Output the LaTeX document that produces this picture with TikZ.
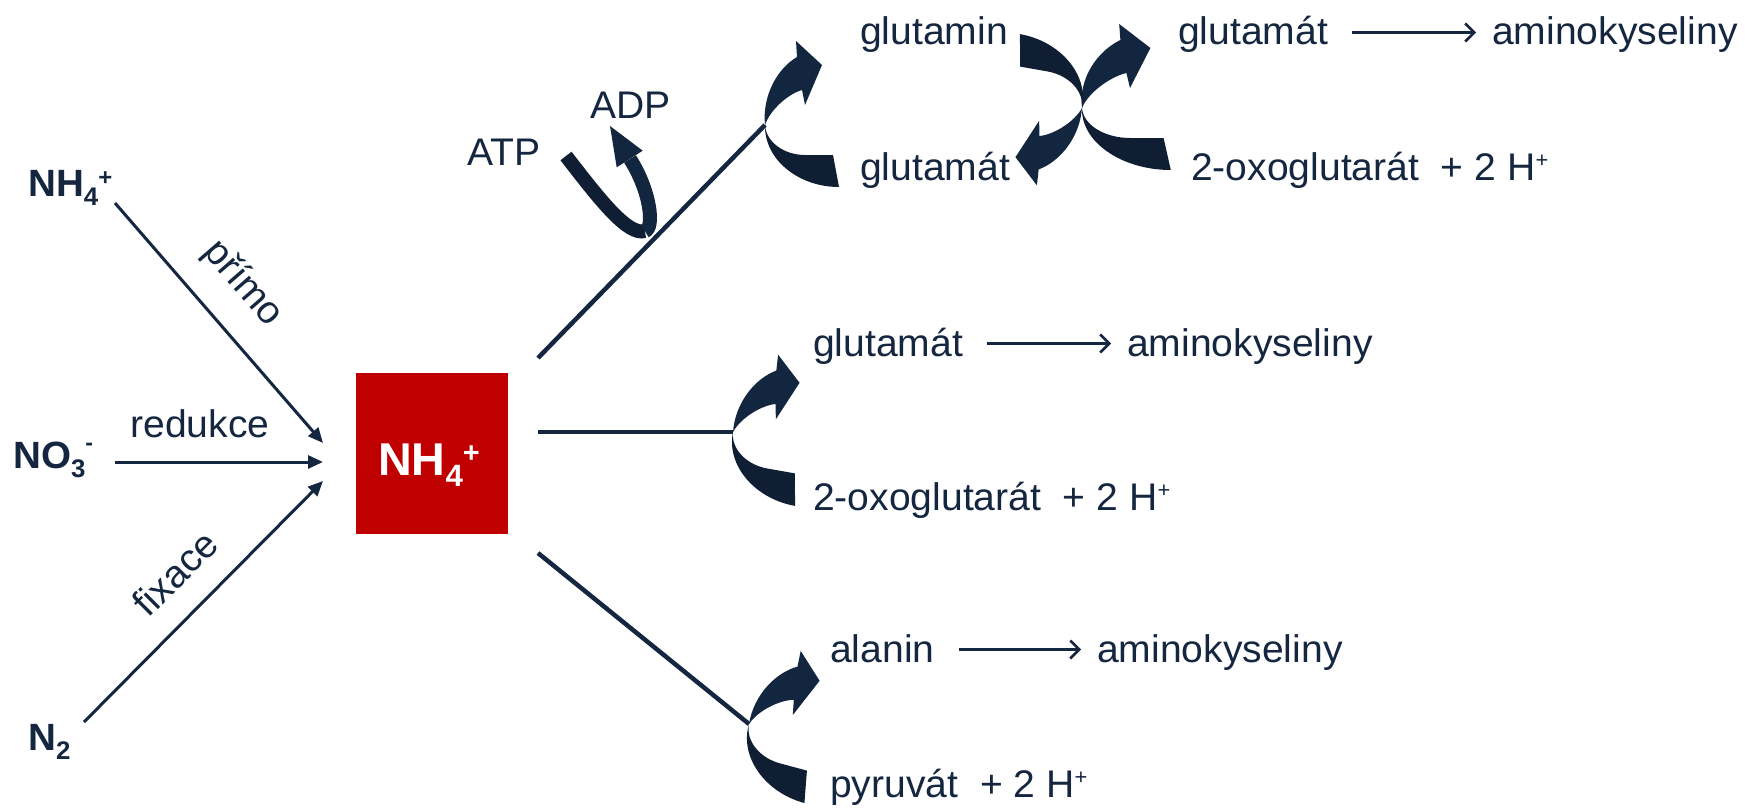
\documentclass[tikz,border=0pt]{standalone}
\usepackage{fontspec}
\setmainfont{Liberation Sans}[FakeStretch=1.015]
\usetikzlibrary{arrows.meta}

\definecolor{navy}{HTML}{152640}
\definecolor{arrdark}{HTML}{0F1E33}
\definecolor{arrlight}{HTML}{13263F}
\definecolor{boxred}{HTML}{C00000}

% chemical indices
\newcommand{\chsub}[1]{\raisebox{-0.26em}{\scalebox{0.67}{#1}}}
\newcommand{\chsup}[1]{\raisebox{0.28em}{\scalebox{0.62}{#1}}}
\newcommand{\chminus}{\raisebox{0.45em}{\scalebox{0.6}{-}}}
\newcommand{\hplus}{\raisebox{0.32em}{\scalebox{0.56}{+}}}

% curved block arrow: a tapering tail crescent and an arrow crescent meeting at the origin
\newcommand{\curvedblockarrow}{%
  \fill[arrdark] (0,0) .. controls (-1,34) and (33,62) .. (74,62) -- (68,30) -- (40,30)
    .. controls (19,30) and (1,17) .. (0,0) -- cycle;
  \fill[arrlight] (0,0) .. controls (-3,-30) and (13,-57) .. (32,-68) -- (31,-84) -- (57,-60)
    -- (40,-20) -- (37,-35) .. controls (23,-31) and (5,-15) .. (0,0) -- cycle;
}

\begin{document}
\begin{tikzpicture}[x=1pt,y=-1pt,
  txt/.style={inner sep=0pt, anchor=base west, text=navy, font=\fontsize{38.5}{42}\selectfont},
  boldtxt/.style={txt, font=\fontsize{38}{42}\selectfont\bfseries},
  feed/.style={draw=navy, line width=3pt, -{Triangle[length=15pt,width=13pt]}},
  branch/.style={draw=navy, line width=4.5pt},
  conv/.style={draw=navy, line width=2.5pt, -{Straight Barb[length=9pt,width=18pt]},
    shorten <=24pt, shorten >=16pt},
]
\useasboundingbox (0,0) rectangle (1746,808);

% ---- nitrogen sources ----
\node[boldtxt] (nh4) at (28,196) {NH\chsub{4}\chsup{+}};
\node[boldtxt] (no3) at (13,468) {NO\chsub{3}\chminus};
\node[boldtxt] (n2)  at (28,750) {N\chsub{2}};

\coordinate (a1s) at (115,203);
\coordinate (a1e) at (323,443);
\coordinate (a2s) at (115,462);
\coordinate (a2e) at (323,462);
\coordinate (a3s) at (84,722);
\coordinate (a3e) at (323,481);
\draw[feed] (a1s) -- (a1e);
\draw[feed] (a2s) -- (a2e);
\draw[feed] (a3s) -- (a3e);

\node[txt, anchor=center, rotate=-49] (primo) at (243,284) {přímo};
\node[txt, anchor=base] (redukce) at (200,437) {redukce};
\node[txt, anchor=center, rotate=45] (fixace) at (175,573) {fixace};

% ---- ammonium pool ----
\node[fill=boxred, minimum width=152pt, minimum height=161pt, inner sep=0pt] (pool) at (432,453.5) {};
\node[inner sep=0pt, anchor=base, text=white, font=\fontsize{46}{50}\selectfont\bfseries]
  (poollbl) at (429,475) {NH\chsub{4}\chsup{+}};

% ---- assimilation branches ----
\coordinate (b1s) at (538,358);
\coordinate (piv1) at (765,125);
\coordinate (b2s) at (538,432);
\coordinate (piv2) at (733,432);
\coordinate (b3s) at (538,553);
\coordinate (piv3) at (749,724);
\draw[branch] (b1s) -- (piv1);
\draw[branch] (b2s) -- (piv2);
\draw[branch] (b3s) -- (piv3);

% ATP -> ADP
\node[txt] (atp) at (467,165) {ATP};
\node[txt] (adp) at (590,118) {ADP};
\draw[arrdark, line width=14pt] (566,156) .. controls (600,200) and (628,236) .. (645,231);
\draw[arrlight, line width=14pt] (645,231) .. controls (655,228) and (650,190) .. (630,159);
\fill[arrlight] (610,126) -- (616.7,167.3) -- (642.7,150.7) -- cycle;

% curved block arrows
\begin{scope}[shift={(piv1)}] \curvedblockarrow \end{scope}
\begin{scope}[shift={(piv2)}, rotate=-10] \curvedblockarrow \end{scope}
\begin{scope}[shift={(piv3)}, rotate=-15] \curvedblockarrow \end{scope}
\coordinate (pivx) at (1082,108);
\begin{scope}[shift={(pivx)}, xscale=1.2] \curvedblockarrow \end{scope}
\begin{scope}[shift={(pivx)}, rotate=170] \curvedblockarrow \end{scope}

% ---- products ----
\node[txt] (gln)   at (860,45)   {glutamin};
\node[txt] (gluA)  at (1178,45)  {glutamát};
\node[txt] (amA)   at (1492,45)  {aminokyseliny};
\node[txt] (gluB)  at (860,180)  {glutamát};
\node[txt] (oxoA)  at (1191,180) {2-oxoglutarát\ \ + 2 H\hplus};

\node[txt] (gluC)  at (813,356)  {glutamát};
\node[txt] (amC)   at (1127,356) {aminokyseliny};
\node[txt] (oxoC)  at (813,510)  {2-oxoglutarát\ \ + 2 H\hplus};

\node[txt] (ala)   at (830,662)  {alanin};
\node[txt] (amD)   at (1097,662) {aminokyseliny};
\node[txt] (pyr)   at (830,797)  {pyruvát\ \ + 2 H\hplus};

\draw[conv] ([yshift=12.5pt]gluA.base east) -- ([yshift=12.5pt]amA.base west);
\draw[conv] ([yshift=12.5pt]gluC.base east) -- ([yshift=12.5pt]amC.base west);
\draw[conv] ([yshift=12.5pt]ala.base east)  -- ([yshift=12.5pt]amD.base west);
\end{tikzpicture}
\end{document}
